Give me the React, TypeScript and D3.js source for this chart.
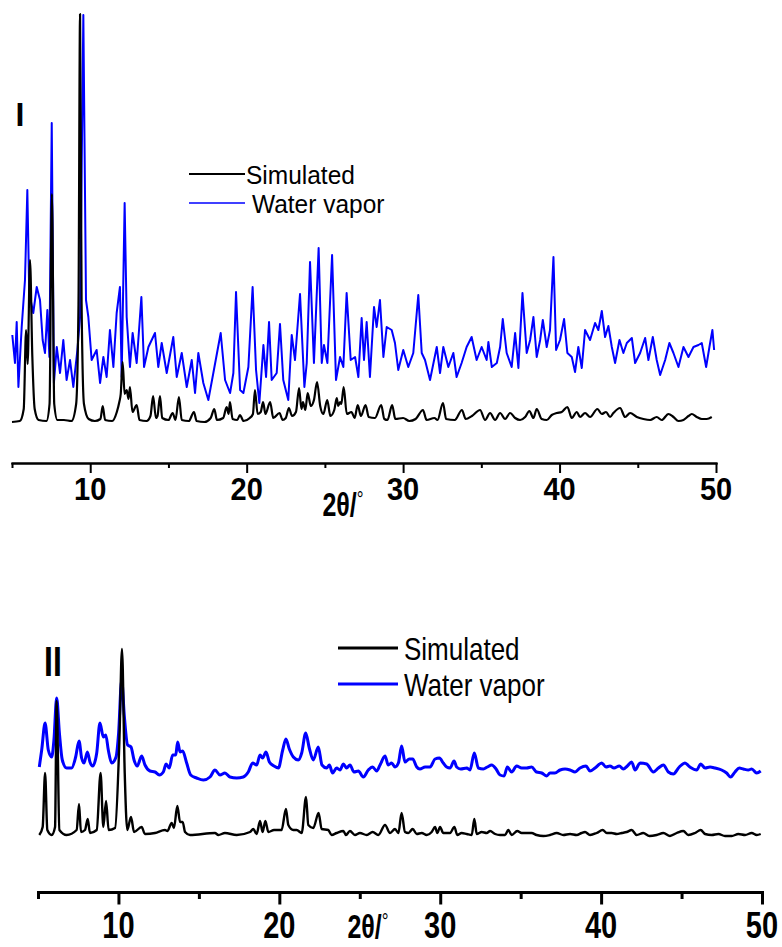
import React, { useEffect, useRef } from 'react';
import * as d3 from 'd3';

// ---- Panel I : [2theta, intensity] ----
const simulatedI: [number, number][] = [
  [5.0, 2], [5.5, 3], [5.75, 15], [5.9, 94], [6.0, 60], [6.15, 164], [6.3, 67], [6.45, 15], [6.7, 4],
  [7.2, 3], [7.4, 20], [7.55, 230], [7.7, 20], [7.9, 4], [8.32, 4], [8.8, 3], [9.1, 20], [9.25, 120],
  [9.35, 410], [9.45, 120], [9.6, 20], [9.9, 5], [10.3, 3], [10.65, 5], [10.8, 18], [10.95, 4], [11.4, 3],
  [11.7, 12], [11.86, 22], [11.95, 30], [12.07, 62], [12.2, 30], [12.33, 34], [12.45, 25], [12.54, 37],
  [12.7, 12], [12.97, 19], [13.15, 4], [13.6, 3], [13.85, 8], [14.02, 28], [14.2, 6], [14.3, 8], [14.46, 28],
  [14.6, 6], [15.0, 4], [15.27, 11], [15.45, 4], [15.67, 27], [15.85, 4], [16.3, 3], [16.63, 12], [16.8, 3],
  [17.3, 2], [17.7, 6], [17.93, 15], [18.1, 4], [18.5, 6], [18.72, 17], [18.85, 10], [18.93, 22], [19.1, 5],
  [19.4, 4], [19.57, 9], [19.8, 3], [20.2, 6], [20.4, 10], [20.53, 34], [20.7, 10], [20.9, 12], [21.05, 22],
  [21.2, 10], [21.5, 22], [21.7, 6], [22.1, 11], [22.3, 4], [22.5, 6], [22.7, 16], [22.9, 8], [23.15, 12],
  [23.35, 36], [23.5, 15], [23.6, 22], [23.75, 14], [23.9, 31], [24.1, 18], [24.3, 24], [24.5, 42],
  [24.7, 18], [24.9, 10], [25.15, 24], [25.35, 8], [25.6, 14], [25.76, 26], [25.85, 18], [25.97, 22],
  [26.05, 20], [26.2, 37], [26.4, 10], [26.7, 12], [26.9, 6], [27.1, 19], [27.3, 8], [27.6, 19], [27.8, 7],
  [28.2, 6], [28.6, 19], [28.8, 5], [29.0, 4], [29.3, 19], [29.5, 5], [30.0, 6], [30.4, 3], [30.8, 5],
  [31.27, 14], [31.5, 4], [32.0, 6], [32.2, 4], [32.55, 21], [32.75, 5], [33.3, 4], [33.76, 14], [34.0, 5],
  [34.4, 8], [34.92, 14], [35.24, 4], [35.56, 11], [35.88, 4], [36.2, 11], [36.52, 5], [36.84, 11],
  [37.16, 6], [37.48, 4], [37.8, 7], [38.07, 13], [38.33, 6], [38.54, 15], [38.86, 5], [39.18, 4], [39.5, 9],
  [39.82, 11], [40.14, 12], [40.5, 17], [40.78, 6], [41.1, 12], [41.31, 7], [41.63, 11], [41.95, 7],
  [42.42, 15], [42.7, 10], [42.97, 12], [43.23, 7], [43.44, 11], [43.87, 16], [44.19, 7], [44.51, 11],
  [44.94, 7], [45.36, 5], [45.79, 4], [46.21, 7], [46.53, 4], [46.96, 10], [47.28, 7], [47.6, 3], [47.92, 4],
  [48.24, 8], [48.45, 10], [48.77, 7], [49.09, 5], [49.41, 5], [49.73, 7],
];

const waterVaporI: [number, number][] = [
  [5.02, 89], [5.19, 61], [5.3, 102], [5.41, 37], [5.62, 97], [5.83, 144], [5.98, 234], [6.11, 124],
  [6.19, 124], [6.36, 111], [6.58, 137], [6.79, 124], [6.96, 84], [7.11, 71], [7.26, 114], [7.39, 67],
  [7.54, 301], [7.68, 41], [7.86, 77], [8.07, 51], [8.28, 84], [8.49, 44], [8.71, 64], [8.92, 37], [9.18, 74],
  [9.35, 107], [9.56, 409], [9.73, 124], [9.88, 107], [10.09, 64], [10.41, 74], [10.63, 41], [10.84, 67],
  [11.05, 47], [11.26, 94], [11.48, 57], [11.69, 111], [11.9, 137], [12.01, 47], [12.2, 221], [12.33, 107],
  [12.54, 57], [12.71, 91], [12.97, 61], [13.27, 127], [13.44, 57], [13.72, 77], [14.14, 91], [14.35, 57],
  [14.57, 81], [14.89, 51], [15.31, 87], [15.53, 47], [15.85, 71], [16.17, 37], [16.49, 64], [16.7, 31],
  [16.91, 71], [17.23, 41], [17.55, 24], [17.87, 51], [18.34, 91], [18.62, 44], [18.94, 31], [19.15, 51],
  [19.32, 132], [19.58, 34], [19.79, 31], [20.11, 57], [20.38, 137], [20.6, 54], [20.81, 21], [21.07, 79],
  [21.24, 47], [21.43, 102], [21.6, 44], [21.92, 51], [22.13, 100], [22.34, 44], [22.66, 24], [22.88, 89],
  [23.09, 64], [23.41, 130], [23.69, 37], [23.84, 61], [24.05, 162], [24.3, 61], [24.6, 176], [24.8, 61],
  [24.94, 79], [25.16, 61], [25.46, 169], [25.71, 44], [25.97, 67], [26.18, 57], [26.39, 131], [26.65, 64],
  [26.93, 67], [27.14, 47], [27.35, 106], [27.5, 64], [27.67, 102], [27.88, 47], [28.14, 117], [28.31, 97],
  [28.52, 124], [28.74, 67], [28.95, 97], [29.27, 94], [29.48, 81], [29.69, 54], [30.01, 74], [30.33, 57],
  [30.65, 71], [30.97, 129], [31.19, 71], [31.4, 64], [31.72, 44], [32.15, 77], [32.36, 51], [32.57, 77],
  [32.89, 57], [33.21, 71], [33.42, 47], [33.74, 61], [34.06, 77], [34.38, 87], [34.7, 64], [35.02, 77],
  [35.34, 64], [35.45, 82], [35.67, 57], [35.99, 61], [36.2, 77], [36.37, 105], [36.62, 71], [36.94, 57],
  [37.16, 91], [37.37, 56], [37.63, 131], [37.9, 71], [38.12, 84], [38.33, 107], [38.54, 67], [38.76, 84],
  [38.93, 104], [39.18, 77], [39.39, 94], [39.61, 167], [39.78, 74], [40.03, 84], [40.29, 105], [40.5, 71],
  [40.78, 67], [40.99, 52], [41.2, 77], [41.42, 56], [41.63, 94], [41.95, 84], [42.27, 101], [42.48, 94],
  [42.7, 113], [42.91, 87], [43.12, 98], [43.34, 77], [43.55, 61], [43.83, 84], [44.08, 71], [44.3, 81],
  [44.62, 86], [44.83, 61], [45.15, 71], [45.47, 86], [45.68, 64], [45.96, 87], [46.21, 64], [46.43, 49],
  [46.75, 64], [47.02, 81], [47.28, 71], [47.6, 57], [47.92, 77], [48.24, 67], [48.56, 77], [48.88, 79],
  [49.09, 81], [49.37, 57], [49.58, 77], [49.77, 94], [49.88, 74],
];

// ---- Panel II : [2theta, intensity] ----
const simulatedII: [number, number][] = [
  [5.08, 1], [5.29, 9], [5.44, 63], [5.58, 6], [5.85, 1], [6.06, 9], [6.16, 135], [6.33, 6], [6.78, 1],
  [7.4, 6], [7.55, 32], [7.67, 4], [7.92, 6], [8.09, 17], [8.23, 3], [8.65, 6], [8.89, 63], [9.06, 9],
  [9.23, 35], [9.39, 6], [9.79, 8], [10.06, 96], [10.22, 187], [10.39, 63], [10.55, 6], [10.78, 19],
  [10.97, 4], [11.44, 9], [11.65, 2], [12.27, 3], [12.89, 6], [13.04, 5], [13.31, 13], [13.45, 8], [13.66, 30],
  [13.83, 14], [13.99, 14], [14.14, 4], [14.45, 1], [16.0, 3], [16.21, 1], [16.62, 3], [17.35, 1], [18.18, 4],
  [18.38, 7], [18.59, 2], [18.8, 15], [18.96, 4], [19.13, 15], [19.32, 4], [19.67, 6], [20.14, 6], [20.41, 27],
  [20.56, 11], [20.87, 6], [21.08, 6], [21.39, 3], [21.66, 39], [21.8, 11], [22.11, 8], [22.44, 23],
  [22.63, 7], [23.04, 6], [23.25, 1], [23.56, 3], [23.98, 5], [24.14, 1], [24.39, 5], [24.7, 1], [25.01, 3],
  [25.43, 1], [25.8, 4], [26.15, 1], [26.57, 11], [26.88, 3], [27.19, 7], [27.4, 3], [27.6, 23], [27.81, 4],
  [28.02, 3], [28.29, 7], [28.54, 2], [28.85, 3], [29.16, 1], [29.47, 4], [29.68, 9], [29.82, 3], [29.99, 9],
  [30.19, 3], [30.44, 3], [30.61, 3], [30.88, 9], [31.06, 1], [31.33, 3], [31.65, 2], [31.96, 1], [32.12, 17],
  [32.27, 2], [32.58, 4], [32.89, 3], [33.1, 5], [33.41, 2], [33.72, 1], [34.03, 1], [34.23, 6], [34.44, 1],
  [34.79, 5], [35.06, 3], [35.37, 3], [35.68, 3], [35.99, 1], [36.41, 0], [36.82, 1], [37.24, 3], [37.65, 1],
  [38.07, 2], [38.48, 1], [38.79, 3], [39.0, 4], [39.31, 1], [39.72, 3], [40.1, 6], [40.35, 3], [40.66, 3],
  [40.97, 2], [41.28, 3], [41.59, 4], [41.9, 6], [42.21, 1], [42.62, 3], [43.0, 0], [43.45, 1], [43.87, 3],
  [44.28, 0], [44.7, 3], [45.11, 5], [45.42, 1], [45.84, 3], [46.19, 6], [46.46, 2], [46.87, 1], [47.29, 2],
  [47.7, 0], [48.12, 0], [48.53, 2], [48.95, 1], [49.36, 3], [49.67, 1], [49.92, 2],
];

const waterVaporII: [number, number][] = [
  [5.08, 69], [5.23, 86], [5.44, 113], [5.64, 86], [5.85, 79], [5.99, 96], [6.16, 138], [6.33, 103],
  [6.51, 76], [6.78, 68], [7.09, 68], [7.34, 79], [7.55, 95], [7.71, 78], [7.86, 73], [8.07, 84], [8.23, 74],
  [8.4, 70], [8.65, 83], [8.85, 113], [9.06, 99], [9.21, 101], [9.37, 86], [9.58, 73], [9.85, 79], [10.01, 103],
  [10.2, 156], [10.37, 119], [10.57, 91], [10.78, 89], [10.97, 76], [11.17, 70], [11.44, 80], [11.65, 71],
  [11.96, 65], [12.27, 64], [12.54, 61], [12.79, 64], [12.96, 72], [13.16, 68], [13.37, 81], [13.56, 81],
  [13.68, 94], [13.83, 84], [13.99, 85], [14.24, 73], [14.49, 61], [14.86, 58], [15.28, 56], [15.69, 59],
  [16.0, 66], [16.31, 61], [16.62, 63], [16.93, 59], [17.35, 58], [17.76, 59], [18.07, 64], [18.34, 73],
  [18.59, 71], [18.8, 81], [18.96, 78], [19.17, 84], [19.38, 74], [19.67, 70], [19.94, 68], [20.21, 86],
  [20.41, 97], [20.62, 87], [20.87, 79], [21.18, 76], [21.39, 83], [21.64, 103], [21.86, 88], [22.11, 76],
  [22.42, 89], [22.65, 71], [22.94, 68], [23.11, 71], [23.31, 63], [23.56, 68], [23.77, 66], [23.98, 72],
  [24.18, 68], [24.39, 71], [24.64, 64], [24.91, 65], [25.22, 59], [25.53, 66], [25.8, 69], [26.05, 65],
  [26.26, 71], [26.57, 80], [26.77, 71], [26.98, 73], [27.19, 69], [27.4, 73], [27.6, 90], [27.81, 74],
  [28.08, 77], [28.29, 77], [28.54, 69], [28.74, 67], [29.06, 69], [29.37, 69], [29.68, 77], [29.95, 78],
  [30.19, 73], [30.4, 69], [30.61, 68], [30.86, 75], [31.02, 69], [31.27, 67], [31.65, 68], [31.85, 66],
  [32.12, 83], [32.37, 68], [32.68, 67], [32.93, 69], [33.2, 71], [33.47, 67], [33.72, 61], [33.97, 60],
  [34.17, 69], [34.44, 64], [34.75, 70], [35.06, 68], [35.37, 68], [35.68, 69], [35.99, 64], [36.31, 63],
  [36.62, 60], [36.82, 63], [37.13, 63], [37.45, 66], [37.76, 67], [38.07, 66], [38.38, 64], [38.69, 68],
  [39.06, 70], [39.31, 65], [39.62, 68], [40.04, 73], [40.3, 69], [40.55, 70], [40.8, 68], [41.13, 70],
  [41.38, 67], [41.63, 70], [41.9, 74], [42.11, 66], [42.42, 73], [42.83, 72], [43.25, 64], [43.56, 68],
  [43.87, 71], [44.18, 64], [44.49, 62], [44.86, 69], [45.21, 73], [45.52, 69], [45.94, 66], [46.19, 72],
  [46.46, 68], [46.77, 69], [47.08, 68], [47.49, 66], [47.8, 63], [48.05, 59], [48.32, 64], [48.59, 68],
  [48.84, 67], [49.15, 66], [49.36, 67], [49.67, 63], [49.92, 65],
];

const majorTicks = [10, 20, 30, 40, 50];
const minorTicks = [5, 15, 25, 35, 45];
const legendNames = ['Simulated', 'Water vapor'];

const W = 782;
const H = 947;
const FONT = 'Arial, "Liberation Sans", Helvetica, sans-serif';

const App = () => {
  const svgRef = useRef<SVGSVGElement>(null);

  useEffect(() => {
    const svg = d3.select(svgRef.current);
    svg.selectAll('*').remove();

    const panels = [
      {
        x0: 12, x1: 716, yBase: 424, yTop: 14, yMax: 410, axisY: 463,
        sim: simulatedI, wv: waterVaporI, simW: 2.2, wvW: 2, simCurve: d3.curveMonotoneX, wvCurve: d3.curveLinear,
        axisW: 2, major: 10, minor: 5,
        tickFont: 29, tickSy: 1.05, tickBase: 500,
        titleX: 343, titleY: 516, titleSy: 1.3,
        tag: 'I', tagX: 20, tagY: 126, tagSy: 1.05,
        legLine: [189, 245], legTextX: [246, 252], legY: [174, 203], legFont: 24.5, legSy: 1.08, legW: [2, 1.6],
      },
      {
        x0: 38, x1: 762, yBase: 836, yTop: 636, yMax: 200, axisY: 892,
        sim: simulatedII, wv: waterVaporII, simW: 2.4, wvW: 3, simCurve: d3.curveMonotoneX, wvCurve: d3.curveMonotoneX,
        axisW: 3, major: 12.5, minor: 7,
        tickFont: 29, tickSy: 1.3, tickBase: 938,
        titleX: 368, titleY: 938, titleSy: 1.35,
        tag: 'II', tagX: 53, tagY: 676, tagSy: 1.3,
        legLine: [338, 398], legTextX: [404, 404], legY: [648, 684], legFont: 26, legSy: 1.23, legW: [3, 3],
      },
    ];

    panels.forEach(p => {
      const x = d3.scaleLinear().domain([5, 50]).range([p.x0, p.x1]);
      const y = d3.scaleLinear().domain([0, p.yMax]).range([p.yBase, p.yTop]);
      const g = svg.append('g');

      const lineSim = d3.line<[number, number]>().x(d => x(d[0])).y(d => y(d[1])).curve(p.simCurve);
      const lineWv = d3.line<[number, number]>().x(d => x(d[0])).y(d => y(d[1])).curve(p.wvCurve);

      g.append('path').attr('d', lineWv(p.wv)).attr('fill', 'none')
        .attr('stroke', '#0000ff').attr('stroke-width', p.wvW).attr('stroke-linejoin', 'round');
      g.append('path').attr('d', lineSim(p.sim)).attr('fill', 'none')
        .attr('stroke', '#000').attr('stroke-width', p.simW).attr('stroke-linejoin', 'round');

      // axis: major + minor ticks
      const axMajor = d3.axisBottom(x).tickValues(majorTicks).tickSize(p.major).tickSizeOuter(0).tickFormat(() => '');
      const axMinor = d3.axisBottom(x).tickValues(minorTicks).tickSize(p.minor).tickSizeOuter(0).tickFormat(() => '');
      [axMinor, axMajor].forEach(ax => {
        const a = g.append('g').attr('transform', `translate(0,${p.axisY})`).call(ax);
        a.selectAll('path, line').attr('stroke', '#000').attr('stroke-width', p.axisW);
        a.select('.domain').attr('stroke-linecap', 'square');
      });

      majorTicks.forEach(t => {
        g.append('text')
          .attr('transform', `translate(${x(t)},${p.tickBase}) scale(1,${p.tickSy})`)
          .attr('text-anchor', 'middle')
          .style('font-family', FONT).style('font-weight', 'bold').style('font-size', `${p.tickFont}px`)
          .text(t);
      });

      // x title
      const tt = g.append('text')
        .attr('transform', `translate(${p.titleX},${p.titleY}) scale(1,${p.titleSy})`)
        .attr('text-anchor', 'middle')
        .style('font-family', FONT).style('font-size', '25px');
      tt.append('tspan').style('font-weight', 'bold').text('2θ/');
      tt.append('tspan').style('font-size', '17px').attr('dy', -7).text('°');

      // panel tag
      g.append('text')
        .attr('transform', `translate(${p.tagX},${p.tagY}) scale(1,${p.tagSy})`)
        .attr('text-anchor', 'middle')
        .style('font-family', FONT).style('font-weight', 'bold').style('font-size', '32px')
        .text(p.tag);

      // legend
      ['#000', '#0000ff'].forEach((c, i) => {
        g.append('line')
          .attr('x1', p.legLine[0]).attr('x2', p.legLine[1])
          .attr('y1', p.legY[i]).attr('y2', p.legY[i])
          .attr('stroke', c).attr('stroke-width', p.legW[i]);
        g.append('text')
          .attr('transform', `translate(${p.legTextX[i]},${p.legY[i] + p.legFont * 0.36 * p.legSy}) scale(1,${p.legSy})`)
          .style('font-family', FONT).style('font-size', `${p.legFont}px`)
          .attr('fill', '#000')
          .text(legendNames[i]);
      });
    });
  }, []);

  return (
    <svg ref={svgRef} width={W} height={H}
      style={{ position: 'absolute', left: 0, top: 0, background: '#fff' }} />
  );
};

export default App;
